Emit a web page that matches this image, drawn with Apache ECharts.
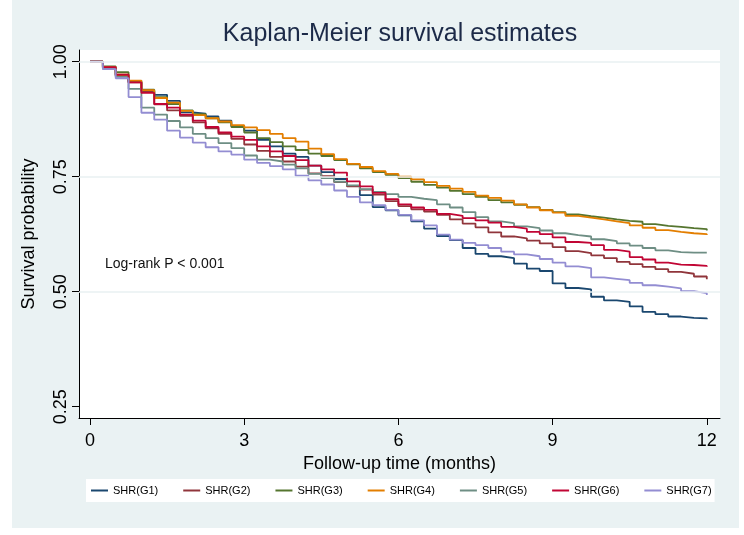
<!DOCTYPE html>
<html>
<head>
<meta charset="utf-8">
<script src="https://cdn.jsdelivr.net/npm/echarts@6/dist/echarts.min.js"></script>
<style>
html,body{margin:0;padding:0;background:#fff;}
#chart{width:744px;height:535px;}
</style>
</head>
<body>
<div id="chart"></div>
<script>
// Follow-up time grid (months)
const times = [0,0.25,0.5,0.75,1,1.25,1.5,1.75,2,2.25,2.5,2.75,3,3.25,3.5,3.75,4,4.25,4.5,4.75,5,5.25,5.5,5.75,6,6.25,6.5,6.75,7,7.25,7.5,7.75,8,8.25,8.5,8.75,9,9.25,9.5,9.75,10,10.25,10.5,10.75,11,11.25,11.5,11.75,12];

const G1 = [1.0,0.988,0.970,0.956,0.937,0.928,0.915,0.890,0.887,0.881,0.872,0.860,0.850,0.830,0.816,0.800,0.793,0.774,0.760,0.745,0.730,0.710,0.684,0.677,0.666,0.653,0.637,0.621,0.612,0.595,0.582,0.577,0.573,0.561,0.550,0.545,0.518,0.508,0.505,0.489,0.481,0.478,0.468,0.456,0.451,0.446,0.443,0.442,0.440];
const G2 = [1.0,0.985,0.970,0.955,0.935,0.907,0.894,0.882,0.868,0.855,0.843,0.832,0.820,0.806,0.793,0.783,0.772,0.757,0.751,0.738,0.729,0.722,0.711,0.697,0.686,0.679,0.674,0.667,0.657,0.648,0.640,0.629,0.620,0.616,0.611,0.605,0.597,0.588,0.584,0.579,0.573,0.565,0.560,0.554,0.549,0.543,0.539,0.533,0.527];
const G3 = [1.0,0.990,0.977,0.958,0.939,0.923,0.908,0.894,0.886,0.877,0.868,0.858,0.846,0.834,0.825,0.816,0.808,0.800,0.795,0.786,0.777,0.768,0.760,0.754,0.747,0.739,0.732,0.726,0.719,0.712,0.706,0.699,0.694,0.689,0.684,0.678,0.673,0.668,0.664,0.661,0.657,0.654,0.652,0.647,0.643,0.641,0.638,0.636,0.633];
const G4 = [1.0,0.988,0.972,0.959,0.938,0.921,0.911,0.893,0.884,0.877,0.870,0.862,0.857,0.851,0.843,0.834,0.826,0.811,0.799,0.788,0.778,0.771,0.762,0.756,0.750,0.744,0.738,0.730,0.724,0.717,0.709,0.704,0.698,0.690,0.683,0.677,0.672,0.665,0.661,0.657,0.653,0.649,0.644,0.639,0.634,0.630,0.627,0.625,0.623];
const G5 = [1.0,0.985,0.967,0.941,0.900,0.885,0.871,0.857,0.843,0.834,0.823,0.812,0.796,0.787,0.783,0.776,0.768,0.756,0.747,0.739,0.731,0.723,0.717,0.712,0.706,0.702,0.699,0.690,0.683,0.673,0.662,0.653,0.649,0.642,0.638,0.633,0.627,0.623,0.620,0.614,0.610,0.605,0.600,0.595,0.590,0.586,0.585,0.585,0.585];
const G6 = [1.0,0.988,0.972,0.955,0.932,0.908,0.900,0.885,0.872,0.858,0.846,0.837,0.830,0.816,0.805,0.795,0.786,0.774,0.766,0.759,0.740,0.729,0.715,0.701,0.690,0.683,0.678,0.669,0.665,0.660,0.655,0.650,0.641,0.637,0.630,0.625,0.618,0.608,0.606,0.601,0.591,0.587,0.575,0.570,0.563,0.559,0.558,0.556,0.554];
const G7 = [1.0,0.984,0.964,0.923,0.889,0.874,0.850,0.835,0.824,0.814,0.805,0.798,0.787,0.780,0.773,0.766,0.752,0.742,0.733,0.720,0.706,0.694,0.688,0.678,0.667,0.655,0.644,0.624,0.613,0.606,0.601,0.595,0.587,0.581,0.577,0.571,0.563,0.555,0.551,0.531,0.528,0.525,0.519,0.514,0.511,0.507,0.501,0.497,0.493];

const groupNames = ['SHR(G1)','SHR(G2)','SHR(G3)','SHR(G4)','SHR(G5)','SHR(G6)','SHR(G7)'];
const groupValues = [G1,G2,G3,G4,G5,G6,G7];
const groupColors = ['#1a476f','#90353b','#55752f','#e37e00','#6e8e84','#c10534','#938dd2'];

const xTicks = [0,3,6,9,12];
const yTicks = [0.25,0.50,0.75,1.00];
const yGrid = [0.50,0.75,1.00];

const chart = echarts.init(document.getElementById('chart'), null, {renderer:'canvas'});
const FONT = 'Liberation Sans, Arial, sans-serif';

const series = [{
  type:'line', name:'_grid', data:[], z:1, silent:true,
  markLine:{
    silent:true, symbol:'none', animation:false,
    label:{show:false},
    lineStyle:{color:'#e8f0f2', type:'solid', width:1.5},
    data: yGrid.map(v => ({yAxis:v}))
  }
}];
groupNames.forEach((n,i) => {
  series.push({
    type:'line', name:n, step:'end', showSymbol:false, symbol:'none', z:3,
    data: times.map((t,k) => [t, groupValues[i][k]]),
    lineStyle:{color:groupColors[i], width:1.8},
    itemStyle:{color:groupColors[i]}
  });
});

chart.setOption({
  animation:false,
  backgroundColor:'#ffffff',
  graphic:[
    {type:'rect', z:-10, shape:{x:12,y:0,width:727,height:528}, style:{fill:'#eaf2f3'}},
    {type:'text', z:10, style:{x:400, y:34, text:'Kaplan-Meier survival estimates', fill:'#1c2a48', font:'25px ' + FONT, textAlign:'center', textVerticalAlign:'middle'}},
    {type:'text', z:10, style:{x:105, y:264, text:'Log-rank P < 0.001', fill:'#111', font:'14px ' + FONT, textAlign:'left', textVerticalAlign:'middle'}}
  ],
  grid:{left:79, right:24, top:50, bottom:117, show:true, backgroundColor:'#ffffff', borderWidth:0},
  xAxis:{
    type:'value', min:-0.214, max:12.257,
    name:'Follow-up time (months)', nameLocation:'middle', nameGap:34,
    nameTextStyle:{fontFamily:FONT, fontSize:18, color:'#000'},
    axisLine:{show:true, onZero:false, lineStyle:{color:'#000', width:1}},
    axisTick:{show:true, length:7, customValues:xTicks, lineStyle:{color:'#000'}},
    axisLabel:{customValues:xTicks, fontFamily:FONT, fontSize:18, color:'#000', margin:14},
    splitLine:{show:false}
  },
  yAxis:{
    type:'value', min:0.2254, max:1.0254,
    name:'Survival probability', nameLocation:'middle', nameGap:41, nameRotate:90,
    nameTextStyle:{fontFamily:FONT, fontSize:18, color:'#000'},
    axisLine:{show:true, onZero:false, lineStyle:{color:'#000', width:1}},
    axisTick:{show:true, length:7, customValues:yTicks, lineStyle:{color:'#000'}},
    axisLabel:{customValues:yTicks, rotate:90, fontFamily:FONT, fontSize:18, color:'#000', margin:9,
      formatter: v => v.toFixed(2)},
    splitLine:{show:false}
  },
  legend:{
    data: groupNames,
    left:86, top:479,
    backgroundColor:'#ffffff',
    padding:[6,3,6,5],
    itemWidth:17, itemHeight:2, itemGap:25,
    icon:'rect',
    textStyle:{fontFamily:FONT, fontSize:11, color:'#000'}
  },
  series: series
});
</script>
</body>
</html>
